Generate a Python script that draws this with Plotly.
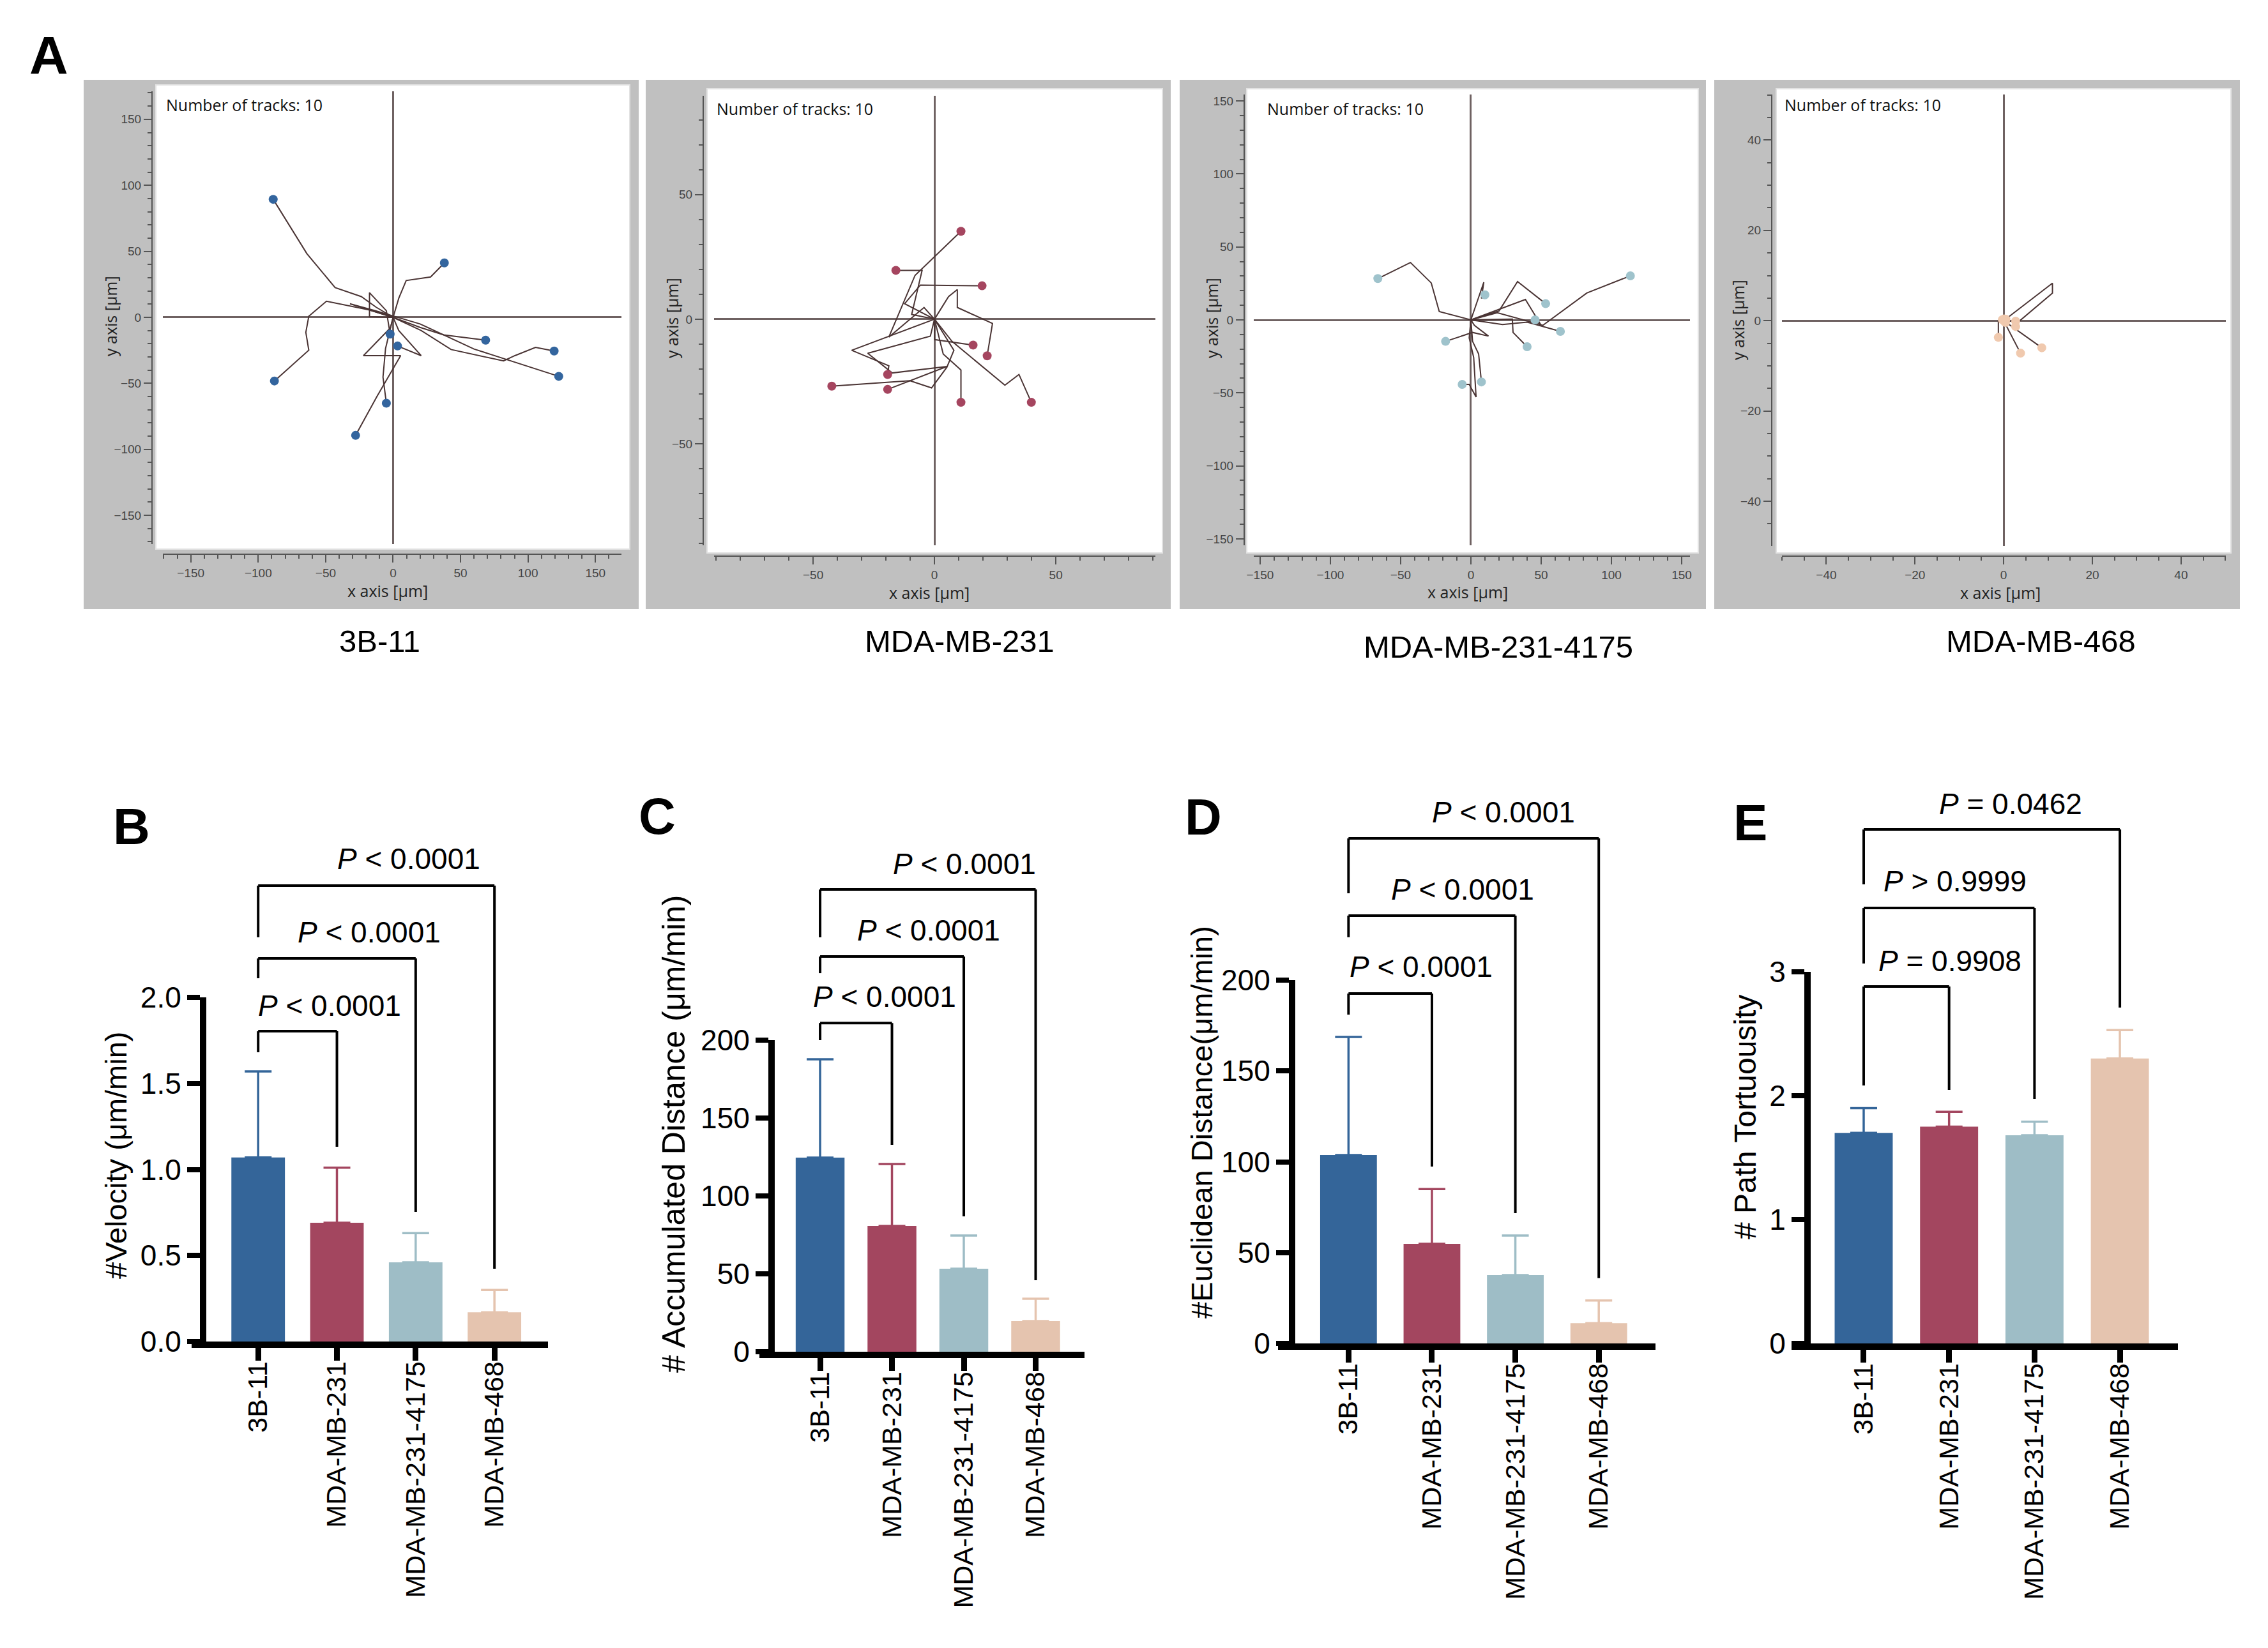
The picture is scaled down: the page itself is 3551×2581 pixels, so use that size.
import plotly.graph_objects as go

W, H = 3551, 2581

cell_lines = ["3B-11", "MDA-MB-231", "MDA-MB-231-4175", "MDA-MB-468"]
bar_colors = ["#346599", "#A3465F", "#9EBDC6", "#E5C4AF"]
dot_colors = ["#33659E", "#A5455F", "#9FC3CC", "#F0C9AE"]

# A: cell tracks in um, every track starts at (0, 0)
tracks_3b11_x = [
    [0, -12.5, -23.6, -43, -63.9, -88.9],
    [0, 4.2, 9.7, 27.8, 38],
    [0, -18, -49.4, -62.5, -64.7, -62.5, -88],
    [0, -2, -22, 5.6, -12, -27.8],
    [0, -5.6, -7.5, -5],
    [0, -17.5, -17.5, -5, -2.2],
    [0, 4.2, 20.8, 3.3],
    [0, 20, 37.5, 68.6],
    [0, 20.8, 43, 81.9, 90.3, 105.6, 119.4],
    [0, -32, -13, 20, 60, 122.8],
]
tracks_3b11_y = [
    [0, 7.6, 15.7, 22.5, 48.2, 89.4],
    [0, 14.4, 27.9, 30.6, 41.2],
    [0, 5.7, 12.2, 0.8, -11.4, -24.9, -48.2],
    [0, -8, -29, -29, -60, -89.4],
    [0, -23.6, -45.3, -65],
    [0, 0.5, 18.7, 5, -12.7],
    [0, -10, -29, -21.7],
    [0, -7.6, -13.3, -17.3],
    [0, -10, -24.4, -33, -29, -22.8, -25.5],
    [0, 10.3, 5, -5, -24, -44.7],
]

tracks_231_x = [
    [0, -4.3, -18.8, -8, 10.9],
    [0, -9.4, -5.1, -15.9],
    [0, -12.3, -5.8, 19.6],
    [0, 5.8, 9.4, 9.4, 23.9, 21.7],
    [0, 0, 15.9],
    [0, 7.2, 29, 34.8, 39.9],
    [0, 3.6, 10.9, 10.9],
    [0, -34.1, -18.8, -19.3],
    [0, 8, 5.1, -1.2, -10.1, -42.3],
    [0, -1.7, -27.5, -17.4, 5.1, -19.3],
]
tracks_231_y = [
    [0, 4.7, -7.2, 17.6, 35.3],
    [0, 1.9, 19.6, 19.6],
    [0, 6.2, 13.7, 13.4],
    [0, 9.1, 11.9, 4.7, -1.7, -14.7],
    [0, -8.2, -10.4],
    [0, -8.9, -26.5, -22.2, -33.4],
    [0, -14, -20.4, -33.4],
    [0, -12.5, -18.7, -22.2],
    [0, -12.5, -19.3, -27.6, -24.7, -26.9],
    [0, -6.8, -13.7, -21.6, -19, -28.2],
]

tracks_4175_x = [
    [0, -22.5, -28.2, -43, -66.2],
    [0, 9.2, 7.5, 10],
    [0, 20, 33.2, 53.2],
    [0, 38.8, 50, 45.7],
    [0, 22.5, 40, 63.7],
    [0, 29.5, 30, 40],
    [0, 2.5, 12.5, 1.2, -18],
    [0, -1.2, 2, 3.7, -1.2, -6.2],
    [0, 1.2, 5.5, 7.5],
    [0, 18.8, 51.2, 82.5, 113.5],
]
tracks_4175_y = [
    [0, 5.7, 25.3, 39.3, 28.3],
    [0, 25.8, 14.7, 17.2],
    [0, 6.1, 26.3, 11.1],
    [0, 14, -3.7, 0],
    [0, -3.2, -1.5, -7.9],
    [0, 0.5, -8.6, -18.4],
    [0, -3.7, -11.1, -8.6, -14.7],
    [0, -12.3, -25.8, -52.8, -44.2, -44.2],
    [0, -14.7, -23.3, -42.5],
    [0, 4.9, -3.7, 18.4, 30.2],
]

tracks_468_x = [
    [0, 11, 11, 3.4, 2.7],
    [0, 2.7],
    [0, -1.2, -1.2],
    [0, 3.8],
    [0, 8.6],
    [0, 0.2],
    [0, 0.5],
    [0, -0.3],
    [0, 0.1],
    [0, 0.4],
]
tracks_468_y = [
    [0, 8.3, 6.1, -0.2, -1.3],
    [0, -0.1],
    [0, 0, -3.7],
    [0, -7.2],
    [0, -6.0],
    [0, -0.2],
    [0, 0.3],
    [0, 0.2],
    [0, 0.4],
    [0, -0.4],
]

# B-E: mean and SD per cell line
velocity_mean = [1.07, 0.69, 0.46, 0.17]
velocity_sd = [0.50, 0.32, 0.17, 0.13]
accum_mean = [124.6, 80.7, 53.3, 19.7]
accum_sd = [63.1, 39.8, 21.3, 14.3]
eucl_mean = [103.7, 54.8, 37.6, 11.2]
eucl_sd = [65.0, 30.2, 21.8, 12.4]
tort_mean = [1.70, 1.75, 1.68, 2.30]
tort_sd = [0.20, 0.12, 0.11, 0.23]

comparisons = [(0, 1), (0, 2), (0, 3)]
p_velocity = ["P < 0.0001", "P < 0.0001", "P < 0.0001"]
p_accum = ["P < 0.0001", "P < 0.0001", "P < 0.0001"]
p_eucl = ["P < 0.0001", "P < 0.0001", "P < 0.0001"]
p_tort = ["P = 0.9908", "P > 0.9999", "P = 0.0462"]


def fx(px):
    return px / W


def fy(py):
    return 1 - py / H


def ptext(s):
    return "<i>P</i>" + s[1:].replace("<", "&lt;").replace(">", "&gt;")


def note(text, px, py, size, family, angle=0, xanchor="center", color="black"):
    # paper-positioned text, anchors fixed so plotly does not auto-pick them
    return dict(text=text, x=fx(px), y=fy(py), xref="paper", yref="paper",
                xanchor=xanchor, yanchor="middle", showarrow=False, textangle=angle,
                font=dict(family=family, size=size, color=color))


ARIAL = "Liberation Sans"
SEGOE = "Open Sans"

# pixel layout of the four track plots
track_panels = [
    dict(tx=tracks_3b11_x, ty=tracks_3b11_y, gray=(123, 992), white=(236, 978, 125, 852),
         xdom=(247, 965), ydom=(135, 844), xr=(-170.7, 169.3), yr=(-171.7, 171.2),
         xpos=860, ypos=230, dt=50, mdt=10, note=(250, 156), xt=(599, 917), yt=(165, 487),
         name=(586, 996)),
    dict(tx=tracks_231_x, ty=tracks_231_y, gray=(1003, 1825), white=(1099, 1812, 131, 858),
         xdom=(1110, 1801), ydom=(142, 846), xr=(-90.8, 91), yr=(-90.8, 89.7),
         xpos=863, ypos=1093, dt=50, mdt=10, note=(1112, 162), xt=(1447, 920), yt=(1044, 490),
         name=(1494, 996)),
    dict(tx=tracks_4175_x, ty=tracks_4175_y, gray=(1839, 2663), white=(1944, 2651, 131, 858),
         xdom=(1955, 2638), ydom=(140, 846), xr=(-154.5, 155.9), yr=(-154.4, 154.4),
         xpos=863, ypos=1940, dt=50, mdt=10, note=(1974, 162), xt=(2290, 919), yt=(1889, 490),
         name=(2338, 1005)),
    dict(tx=tracks_468_x, ty=tracks_468_y, gray=(2676, 3499), white=(2773, 3485, 131, 858),
         xdom=(2782, 3477), ydom=(140, 847), xr=(-50, 50.1), yr=(-49.9, 50.1),
         xpos=863, ypos=2766, dt=20, mdt=5, note=(2784, 156), xt=(3124, 920), yt=(2713, 493),
         name=(3187, 996)),
]

# pixel layout of the bar charts; brackets: (top, left end, right end, text x, text y) in data units
bar_panels = [
    dict(mean=velocity_mean, sd=velocity_sd, p=p_velocity, letter="B", lpos=(198, 1286),
         xdom=(292, 850), ydom=(1554, 2093), ypos=310, ymax=2.0, dtick=0.5, fmt=".1f",
         title="#Velocity (μm/min)", tpos=(173, 1801), tsize=47,
         br=[(1.803, 1.681, 1.132, 0.91, 1.952), (2.226, 2.111, 0.753, 1.41, 2.378),
             (2.649, 2.349, 0.423, 1.91, 2.805)]),
    dict(mean=accum_mean, sd=accum_sd, p=p_accum, letter="C", lpos=(1021, 1270),
         xdom=(1181, 1690), ydom=(1621, 2109), ypos=1200, ymax=200, dtick=50, fmt="d",
         title="# Accumulated Distance (μm/min)", tpos=(1047, 1768), tsize=50,
         br=[(211, 200, 132.8, 0.90, 227.9), (253.7, 243, 86.9, 1.51, 270.5),
             (296.7, 266, 45.9, 2.01, 313.1)]),
    dict(mean=eucl_mean, sd=eucl_sd, p=p_eucl, letter="D", lpos=(1876, 1271),
         xdom=(1993, 2584), ydom=(1527, 2096), ypos=2015, ymax=200, dtick=50, fmt="d",
         title="#Euclidean Distance(μm/min)", tpos=(1873, 1750), tsize=47,
         br=[(192.6, 181, 97.4, 0.87, 207.4), (235.5, 223.6, 71.7, 1.37, 249.9),
             (278, 247.8, 35.9, 1.86, 292.4)]),
    dict(mean=tort_mean, sd=tort_sd, p=p_tort, letter="E", lpos=(2732, 1280),
         xdom=(2797, 3402), ydom=(1514, 2096), ypos=2822, ymax=3, dtick=1, fmt="d",
         title="# Path Tortuousity", tpos=(2724, 1742), tsize=48,
         br=[(2.881, 2.082, 2.046, 1.01, 3.088), (3.515, 3.067, 1.974, 1.07, 3.732),
             (4.149, 3.706, 2.711, 1.72, 4.356)]),
]

fig = go.Figure()
shapes = []
annotations = []
layout = {}

annotations.append(note("<b>A</b>", 68, 79, 84, ARIAL))

for i, pn in enumerate(track_panels):
    n = i + 1
    xa = "x" if n == 1 else "x%d" % n
    ya = "y" if n == 1 else "y%d" % n
    xk = "xaxis" if n == 1 else "xaxis%d" % n
    yk = "yaxis" if n == 1 else "yaxis%d" % n

    for tx, ty in zip(pn["tx"], pn["ty"]):
        fig.add_trace(go.Scatter(x=tx, y=ty, mode="lines", xaxis=xa, yaxis=ya,
                                 line=dict(color="#4a3434", width=2),
                                 showlegend=False, hoverinfo="skip"))
    fig.add_trace(go.Scatter(x=[t[-1] for t in pn["tx"]], y=[t[-1] for t in pn["ty"]],
                             mode="markers", xaxis=xa, yaxis=ya,
                             marker=dict(color=dot_colors[i], size=14, line=dict(width=0)),
                             showlegend=False, hoverinfo="skip"))

    g0, g1 = pn["gray"]
    shapes.append(dict(type="rect", xref="paper", yref="paper", layer="below",
                       x0=fx(g0), x1=fx(g1), y0=fy(946), y1=fy(117),
                       fillcolor="#c0c0c0", line=dict(width=0)))
    w0, w1, w2, w3 = pn["white"]
    shapes.append(dict(type="rect", xref="paper", yref="paper", layer="below",
                       x0=fx(w0), x1=fx(w1), y0=fy(w3), y1=fy(w2),
                       fillcolor="white", line=dict(color="#e2e2e2", width=2)))

    common = dict(showgrid=False, showline=True, linecolor="#555", linewidth=2,
                  ticks="outside", ticklen=12, tickwidth=2, tickcolor="#555",
                  tickfont=dict(family=ARIAL, size=19, color="#444"),
                  zeroline=True, zerolinecolor="#6f6262", zerolinewidth=2.5,
                  dtick=pn["dt"], tick0=0, automargin=False, fixedrange=True,
                  minor=dict(ticks="outside", ticklen=6, tickwidth=2, tickcolor="#555",
                             dtick=pn["mdt"]))
    layout[xk] = dict(common, domain=[fx(pn["xdom"][0]), fx(pn["xdom"][1])],
                      range=list(pn["xr"]), anchor="free", position=fy(pn["xpos"]))
    layout[yk] = dict(common, domain=[fy(pn["ydom"][1]), fy(pn["ydom"][0])],
                      range=list(pn["yr"]), anchor="free", position=fx(pn["ypos"]))

    annotations.append(note("Number of tracks: %d" % len(pn["tx"]), pn["note"][0], pn["note"][1],
                            25, SEGOE, xanchor="left", color="#111"))
    annotations.append(note("x axis [μm]", pn["xt"][0], pn["xt"][1], 25, SEGOE, color="#222"))
    annotations.append(note("y axis [μm]", pn["yt"][0], pn["yt"][1], 25, SEGOE, angle=-90,
                            color="#222"))
    annotations.append(note(cell_lines[i], pn["name"][0], pn["name"][1], 49, ARIAL))

for i, pn in enumerate(bar_panels):
    n = i + 5
    xa, ya = "x%d" % n, "y%d" % n
    for k, cat in enumerate(cell_lines):
        fig.add_trace(go.Bar(x=[cat], y=[pn["mean"][k]], width=0.68, xaxis=xa, yaxis=ya,
                             marker=dict(color=bar_colors[k], line=dict(width=0)),
                             error_y=dict(type="data", array=[pn["sd"][k]], arrayminus=[0],
                                          symmetric=False, color=bar_colors[k],
                                          thickness=3.5, width=21),
                             showlegend=False, hoverinfo="skip"))

    d0, d1 = fy(pn["ydom"][1]), fy(pn["ydom"][0])
    layout["xaxis%d" % n] = dict(domain=[fx(pn["xdom"][0]), fx(pn["xdom"][1])],
                                 range=[-0.845, 3.68], anchor=ya, type="category",
                                 categoryorder="array", categoryarray=cell_lines,
                                 showline=True, linecolor="black", linewidth=10,
                                 ticks="outside", ticklen=20, tickwidth=9, tickcolor="black",
                                 tickangle=-90, ticklabelstandoff=-16,
                                 tickfont=dict(family=ARIAL, size=43, color="black"),
                                 showgrid=False, zeroline=False, automargin=False, fixedrange=True)
    layout["yaxis%d" % n] = dict(domain=[d0, d1], range=[0, pn["ymax"]], anchor="free",
                                 position=fx(pn["ypos"]), dtick=pn["dtick"], tick0=0,
                                 tickformat=pn["fmt"], showline=True, linecolor="black",
                                 linewidth=10, ticks="outside", ticklen=20, tickwidth=8,
                                 tickcolor="black",
                                 tickfont=dict(family=ARIAL, size=46, color="black"),
                                 showgrid=False, zeroline=False, automargin=False, fixedrange=True)

    def yp(v, d0=d0, d1=d1, ymax=pn["ymax"]):
        return d0 + (d1 - d0) * v / ymax

    for (a, b), (top, lend, rend, txx, txy), ptxt in zip(comparisons, pn["br"], pn["p"]):
        for x0, y0, x1, y1 in [(a, lend, a, top), (a, top, b, top), (b, top, b, rend)]:
            shapes.append(dict(type="line", xref=xa, yref="paper", x0=x0, x1=x1,
                               y0=yp(y0), y1=yp(y1), line=dict(color="black", width=4)))
        annotations.append(dict(text=ptext(ptxt), x=txx, y=yp(txy), xref=xa, yref="paper",
                                showarrow=False, xanchor="center", yanchor="middle",
                                font=dict(family=ARIAL, size=46, color="black")))

    annotations.append(note(pn["title"], pn["tpos"][0], pn["tpos"][1], pn["tsize"], ARIAL,
                            angle=-90))
    annotations.append(note("<b>%s</b>" % pn["letter"], pn["lpos"][0], pn["lpos"][1], 80, ARIAL))

fig.update_layout(layout)
fig.update_layout(width=W, height=H, autosize=False, template="none",
                  margin=dict(l=0, r=0, t=0, b=0, pad=0),
                  paper_bgcolor="white", plot_bgcolor="rgba(0,0,0,0)",
                  barmode="overlay", showlegend=False,
                  shapes=shapes, annotations=annotations)

fig.write_html("out.html", config={"displayModeBar": False})
